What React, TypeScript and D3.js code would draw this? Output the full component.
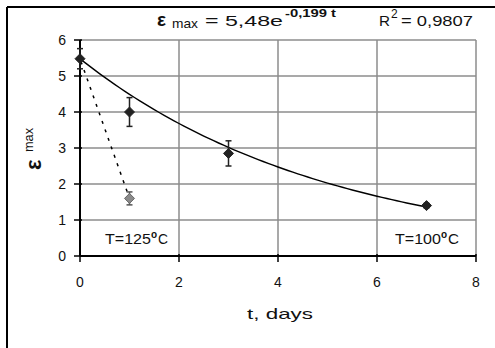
import React from "react";
import * as d3 from "d3";

// Measured maximum strain vs. ageing time
const days100 = [0, 1, 3, 7];
const eps100 = [5.48, 4.0, 2.85, 1.4];
const err100 = [0.28, 0.4, 0.35, 0.06];

const days125 = [0, 1];
const eps125 = [5.48, 1.6];
const err125 = [0.28, 0.18];

// Exponential fit for T=100°C: eps = 5.48 e^(-0.199 t)
const fitA = 5.48;
const fitK = 0.199;
const fitR2 = "0,9807";

const xTicks = [0, 2, 4, 6, 8];
const yTicks = [0, 1, 2, 3, 4, 5, 6];

const W = 495;
const H = 348;
const FONT = "'Liberation Sans', Arial, sans-serif";

export default function App() {
  const x = d3.scaleLinear().domain([0, 8]).range([80, 476]);
  const y = d3.scaleLinear().domain([0, 6]).range([256, 40]);

  const fitPts = d3.range(0, 7.001, 0.1).map((t) => [t, fitA * Math.exp(-fitK * t)] as [number, number]);
  const fitLine = d3
    .line<[number, number]>()
    .x((d) => x(d[0]))
    .y((d) => y(d[1]));

  const diamond = (cx: number, cy: number, r: number) =>
    `M${cx},${cy - r}L${cx + r},${cy}L${cx},${cy + r}L${cx - r},${cy}Z`;

  const errBar = (t: number, v: number, e: number, key: string, color: string) => (
    <g key={key} stroke={color} strokeWidth={1.5}>
      <line x1={x(t)} x2={x(t)} y1={y(v + e)} y2={y(v - e)} />
      <line x1={x(t) - 3} x2={x(t) + 3} y1={y(v + e)} y2={y(v + e)} />
      <line x1={x(t) - 3} x2={x(t) + 3} y1={y(v - e)} y2={y(v - e)} />
    </g>
  );

  const stretch = "spacingAndGlyphs";

  return (
    <svg
      width={W}
      height={H}
      style={{ position: "absolute", left: 0, top: 0, background: "#fff" }}
      fontFamily={FONT}
      fill="#111"
    >
      {/* outer frame */}
      <line x1={7} x2={W} y1={7} y2={7} stroke="#000" strokeWidth={2} />
      <line x1={7} x2={7} y1={7} y2={H} stroke="#000" strokeWidth={2} />

      {/* grid */}
      {yTicks.slice(1).map((t) => (
        <line key={"gy" + t} x1={x(0)} x2={x(8)} y1={y(t)} y2={y(t)} stroke="#8c8c8c" strokeWidth={1.5} />
      ))}
      {xTicks.slice(1).map((t) => (
        <line key={"gx" + t} x1={x(t)} x2={x(t)} y1={y(0)} y2={y(6)} stroke="#8c8c8c" strokeWidth={1.5} />
      ))}

      {/* axes */}
      <line x1={x(0)} x2={x(0)} y1={y(0)} y2={y(6)} stroke="#000" strokeWidth={2} />
      <line x1={x(0)} x2={x(8)} y1={y(0)} y2={y(0)} stroke="#000" strokeWidth={2} />
      {yTicks.map((t) => (
        <g key={"ty" + t}>
          <line x1={x(0) - 6} x2={x(0) + 2} y1={y(t)} y2={y(t)} stroke="#000" strokeWidth={1.5} />
          <text x={x(0) - 14} y={y(t) + 5} textAnchor="end" fontSize={14}>
            {t}
          </text>
        </g>
      ))}
      {xTicks.map((t) => (
        <g key={"tx" + t}>
          <line x1={x(t)} x2={x(t)} y1={y(0) - 2} y2={y(0) + 6} stroke="#000" strokeWidth={1.5} />
          <text x={x(t)} y={y(0) + 31} textAnchor="middle" fontSize={14}>
            {t}
          </text>
        </g>
      ))}

      {/* 125°C: dotted connection */}
      <line
        x1={x(days125[0])}
        y1={y(eps125[0])}
        x2={x(days125[1])}
        y2={y(eps125[1])}
        stroke="#000"
        strokeWidth={1.5}
        strokeDasharray="3,6"
        strokeDashoffset={-12}
      />
      {/* 100°C: exponential fit */}
      <path d={fitLine(fitPts) || ""} fill="none" stroke="#000" strokeWidth={1.4} />

      {/* error bars and markers */}
      {days125.map((t, i) =>
        i === 0 ? null : errBar(t, eps125[i], err125[i], "e125" + i, "#555")
      )}
      {days125.map((t, i) =>
        i === 0 ? null : <path key={"m125" + i} d={diamond(x(t), y(eps125[i]), 5)} fill="#8a8a8a" stroke="#666" />
      )}
      {days100.map((t, i) => errBar(t, eps100[i], err100[i], "e100" + i, "#222"))}
      {days100.map((t, i) => (
        <path key={"m100" + i} d={diamond(x(t), y(eps100[i]), 5)} fill="#222" stroke="#222" />
      ))}

      {/* annotations */}
      <text x={105} y={244} fontSize={14} textLength={46} lengthAdjust={stretch}>T=125</text>
      <text x={151} y={238} fontSize={10} fontWeight="bold">o</text>
      <text x={158} y={244} fontSize={14} textLength={10} lengthAdjust={stretch}>C</text>
      <text x={395} y={244} fontSize={14} textLength={46} lengthAdjust={stretch}>T=100</text>
      <text x={441} y={238} fontSize={10} fontWeight="bold">o</text>
      <text x={448} y={244} fontSize={14} textLength={11} lengthAdjust={stretch}>C</text>

      {/* fit equation */}
      <text x={157} y={26} fontSize={19} fontWeight="bold">ε</text>
      <text x={172} y={28} fontSize={13} textLength={26} lengthAdjust={stretch}>max</text>
      <text x={205} y={26} fontSize={15} textLength={78} lengthAdjust={stretch}>= 5,48e</text>
      <text x={285} y={17} fontSize={11} fontWeight="bold" textLength={51} lengthAdjust={stretch}>-0,199 t</text>
      <text x={379} y={26} fontSize={15} textLength={11} lengthAdjust={stretch}>R</text>
      <text x={391} y={18} fontSize={12}>2</text>
      <text x={401} y={26} fontSize={15} textLength={72} lengthAdjust={stretch}>= {fitR2}</text>

      {/* axis titles */}
      <g transform="translate(41,147) rotate(-90)">
        <text x={-23} y={0} fontSize={22} fontWeight="bold">ε</text>
        <text x={-5} y={-8} fontSize={13} textLength={24} lengthAdjust={stretch}>max</text>
      </g>
      <text x={247} y={319} fontSize={15} textLength={66} lengthAdjust={stretch}>
        t, days
      </text>
    </svg>
  );
}
